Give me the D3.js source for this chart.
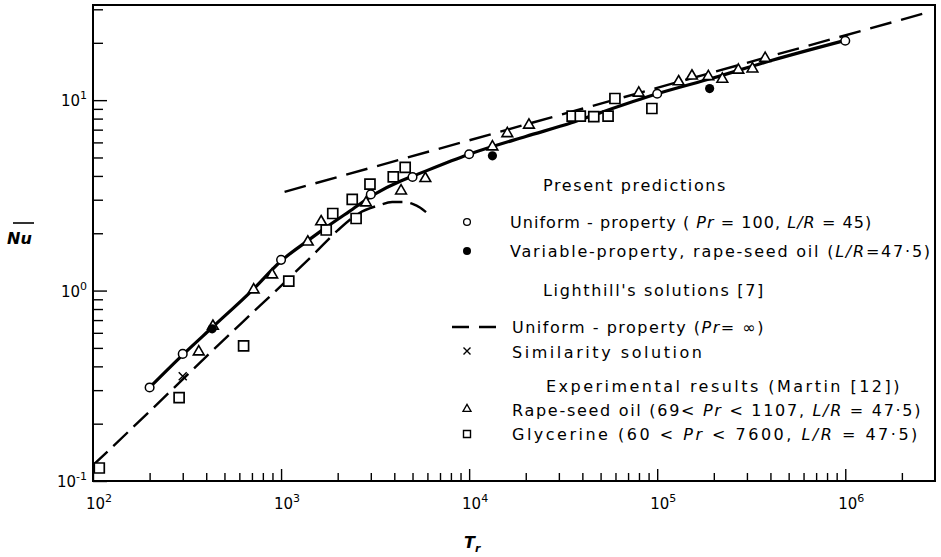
<!DOCTYPE html>
<html>
<head>
<meta charset="utf-8">
<script src="https://cdn.jsdelivr.net/npm/d3@7"></script>
<style>
  body { margin: 0; background: #fff; }
  svg { font-family: "DejaVu Sans", sans-serif; }
</style>
</head>
<body>
<div id="chart"></div>
<script>
// present predictions, solid curve
const predTr = [200, 300, 430, 700, 1000, 1400, 1750, 2300, 3200, 4300, 5000, 10000, 20000, 35000, 50000, 100000, 200000, 400000, 1000000];
const predNu = [0.31, 0.46, 0.64, 1.0, 1.43, 1.84, 2.16, 2.6, 3.24, 3.75, 3.98, 5.2, 6.45, 7.6, 8.6, 10.8, 13.1, 16.1, 20.6];

// Lighthill, small-T dashed curve (with the hump)
const lowTr = [100, 200, 400, 700, 1000, 1500, 2000, 2600, 3300, 3900, 4500, 5000, 5500, 5900];
const lowNu = [0.121, 0.232, 0.45, 0.76, 1.06, 1.56, 2.07, 2.55, 2.8, 2.92, 2.92, 2.85, 2.72, 2.58];

// Lighthill, uniform-property (Pr = inf) asymptote
const asymTr = [1044, 2810000];
const asymNu = [3.30, 29.1];

// open circles: uniform-property
const uniformTr = [200, 300, 1000, 3000, 5000, 10000, 100000, 1000000];
const uniformNu = [0.31, 0.465, 1.45, 3.2, 3.95, 5.2, 10.8, 20.5];

// filled circles: variable-property
const variableTr = [430, 13300, 190000];
const variableNu = [0.63, 5.1, 11.5];

// similarity solution
const simTr = [300];
const simNu = [0.355];

// triangles: rape-seed oil
const rapeTr = [365, 434, 715, 897, 1387, 1633, 2830, 4345, 5850, 13300, 15960, 20800, 79800, 130000, 153000, 187000, 222000, 270000, 321000, 375000];
const rapeNu = [0.477, 0.65, 1.01, 1.21, 1.80, 2.30, 2.89, 3.34, 3.88, 5.69, 6.68, 7.4, 10.9, 12.5, 13.4, 13.3, 12.9, 14.4, 14.6, 16.6];

// squares: glycerine
const glyTr = [108, 287, 632, 1099, 1738, 1883, 2390, 2506, 2970, 3950, 4570, 35300, 39000, 46000, 54800, 59600, 93700];
const glyNu = [0.117, 0.274, 0.513, 1.12, 2.08, 2.54, 3.01, 2.39, 3.62, 3.95, 4.44, 8.24, 8.24, 8.2, 8.24, 10.2, 9.04];

// axis ticks
const xMajor = [1e2, 1e3, 1e4, 1e5, 1e6];
const xExp = ["2", "3", "4", "5", "6"];
const yMajor = [0.1, 1, 10];
const yExp = ["-1", "0", "1"];

// legend texts: [text, italic]
const legendHeads = ["Present predictions", "Lighthill's solutions [7]", "Experimental results (Martin [12])"];
const legendItems = [
  [["Uniform - property ( "], ["Pr", 1], [" = 100, "], ["L/R", 1], [" = 45)"]],
  [["Variable-property, rape-seed oil ("], ["L/R", 1], ["=47·5)"]],
  [["Uniform - property ("], ["Pr", 1], ["= ∞)"]],
  [["Similarity  solution"]],
  [["Rape-seed oil (69< "], ["Pr", 1], [" < 1107, "], ["L/R", 1], [" = 47·5)"]],
  [["Glycerine (60 < "], ["Pr", 1], [" < 7600, "], ["L/R", 1], [" = 47·5)"]]
];

const width = 941, height = 557;
const x = d3.scaleLog().domain([100, 3e6]).range([93, 935]);
const y = d3.scaleLog().domain([0.1, 31.6]).range([481, 5]);

const zip = (a, b) => a.map((v, i) => [v, b[i]]);

const svg = d3.select("#chart").append("svg")
  .attr("width", width)
  .attr("height", height)
  .attr("viewBox", [0, 0, width, height]);

// minor tick values
const minorVals = (lo, hi) => {
  let out = [];
  for (let e = lo; e < hi; e++)
    for (let m = 2; m <= 9; m++) out.push(m * Math.pow(10, e));
  return out;
};
const xMinor = minorVals(2, 6).concat([2e6]);
const yMinor = minorVals(-1, 1).concat([20, 30]);

const styleAxis = g => {
  g.select(".domain").remove();
  g.selectAll(".tick line").attr("stroke", "#000").attr("stroke-width", 1.4);
};

// x axis ticks (inward)
svg.append("g").attr("transform", "translate(0,481)")
  .call(d3.axisBottom(x).tickValues(xMinor).tickSize(-8).tickFormat(""))
  .call(styleAxis);
svg.append("g").attr("transform", "translate(0,481)")
  .call(d3.axisBottom(x).tickValues(xMajor).tickSize(-12).tickFormat(""))
  .call(styleAxis);

// y axis ticks (inward)
svg.append("g").attr("transform", "translate(93,0)")
  .call(d3.axisLeft(y).tickValues(yMinor).tickSize(-10).tickFormat(""))
  .call(styleAxis);
svg.append("g").attr("transform", "translate(93,0)")
  .call(d3.axisLeft(y).tickValues(yMajor).tickSize(-14).tickFormat(""))
  .call(styleAxis);

// frame
svg.append("rect")
  .attr("x", x.range()[0]).attr("y", y.range()[1])
  .attr("width", x.range()[1] - x.range()[0])
  .attr("height", y.range()[0] - y.range()[1])
  .attr("fill", "none").attr("stroke", "#000").attr("stroke-width", 2);

// tick labels with superscripts
xMajor.forEach((v, i) => {
  const t = svg.append("text")
    .attr("x", x(v) + 6).attr("y", 509)
    .attr("text-anchor", "middle")
    .attr("font-size", 15);
  t.append("tspan").text("10");
  t.append("tspan").attr("dy", -7).attr("font-size", 11).text(xExp[i]);
});
yMajor.forEach((v, i) => {
  const t = svg.append("text")
    .attr("x", 87).attr("y", y(v) + 6)
    .attr("text-anchor", "end")
    .attr("font-size", 15);
  t.append("tspan").text("10");
  t.append("tspan").attr("dy", -7).attr("font-size", 11).text(yExp[i]);
});

// axis titles
svg.append("text")
  .attr("x", 7).attr("y", 244)
  .attr("font-size", 16).attr("font-style", "italic").attr("font-weight", "bold")
  .text("Nu");
svg.append("line")
  .attr("x1", 13).attr("x2", 34).attr("y1", 223).attr("y2", 223)
  .attr("stroke", "#000").attr("stroke-width", 1.6);

const tr = svg.append("text")
  .attr("x", 464).attr("y", 548)
  .attr("font-size", 16).attr("font-style", "italic").attr("font-weight", "bold");
tr.append("tspan").text("T");
tr.append("tspan").attr("dy", 4).attr("font-size", 11).text("r");

// curves
const line = d3.line().x(d => x(d[0])).y(d => y(d[1])).curve(d3.curveMonotoneX);

svg.append("path")
  .datum(zip(lowTr, lowNu))
  .attr("d", line)
  .attr("fill", "none").attr("stroke", "#000")
  .attr("stroke-width", 2.4).attr("stroke-dasharray", "20 8");

svg.append("path")
  .datum(zip(asymTr, asymNu))
  .attr("d", line)
  .attr("fill", "none").attr("stroke", "#000")
  .attr("stroke-width", 2.4).attr("stroke-dasharray", "22 10");

svg.append("path")
  .datum(zip(predTr, predNu))
  .attr("d", line)
  .attr("fill", "none").attr("stroke", "#000")
  .attr("stroke-width", 3.2);

// markers
const tri = d3.symbol().type(d3.symbolTriangle).size(50);
const sq = d3.symbol().type(d3.symbolSquare).size(100);

svg.append("g").selectAll("path")
  .data(zip(glyTr, glyNu)).join("path")
  .attr("transform", d => `translate(${x(d[0])},${y(d[1])})`)
  .attr("d", sq)
  .attr("fill", "#fff").attr("stroke", "#000").attr("stroke-width", 1.7);

svg.append("g").selectAll("path")
  .data(zip(rapeTr, rapeNu)).join("path")
  .attr("transform", d => `translate(${x(d[0])},${y(d[1])})`)
  .attr("d", tri)
  .attr("fill", "#fff").attr("stroke", "#000").attr("stroke-width", 1.6);

svg.append("g").selectAll("circle")
  .data(zip(uniformTr, uniformNu)).join("circle")
  .attr("cx", d => x(d[0])).attr("cy", d => y(d[1]))
  .attr("r", 4.3)
  .attr("fill", "#fff").attr("stroke", "#000").attr("stroke-width", 1.5);

svg.append("g").selectAll("circle")
  .data(zip(variableTr, variableNu)).join("circle")
  .attr("cx", d => x(d[0])).attr("cy", d => y(d[1]))
  .attr("r", 4.6)
  .attr("fill", "#000");

svg.append("g").selectAll("path")
  .data(zip(simTr, simNu)).join("path")
  .attr("transform", d => `translate(${x(d[0])},${y(d[1])})`)
  .attr("d", "M-4,-4L4,4M-4,4L4,-4")
  .attr("stroke", "#000").attr("stroke-width", 1.5);

// legend
const legend = svg.append("g").attr("font-size", 16);

function fitText(t, target) {
  const n = t.text().length;
  const len = t.node().getComputedTextLength();
  t.attr("letter-spacing", ((target - len) / n).toFixed(2));
}

const headX = [543, 543, 546];
const headY = [185, 290, 386];
const headW = [184, 222, 356];
legendHeads.forEach((s, i) => {
  const t = legend.append("text")
    .attr("x", headX[i]).attr("y", headY[i] + 6)
    .text(s);
  fitText(t, headW[i]);
});

const itemY = [222, 251, 327, 352, 410, 434];
const itemX = [510, 510, 512, 512, 512, 512];
const itemW = [362, 422, 253, 195, 410, 408];
legendItems.forEach((segs, i) => {
  const t = legend.append("text")
    .attr("x", itemX[i]).attr("y", itemY[i] + 6);
  segs.forEach(s => {
    t.append("tspan")
      .attr("font-style", s[1] ? "italic" : null)
      .text(s[0]);
  });
  fitText(t, itemW[i]);
});

// legend symbols
const lx = 467;
legend.append("circle").attr("cx", lx).attr("cy", itemY[0]).attr("r", 3.4)
  .attr("fill", "#fff").attr("stroke", "#000").attr("stroke-width", 1.3);
legend.append("circle").attr("cx", lx).attr("cy", itemY[1]).attr("r", 4)
  .attr("fill", "#000");
legend.append("line")
  .attr("x1", 452).attr("x2", 497).attr("y1", itemY[2]).attr("y2", itemY[2])
  .attr("stroke", "#000").attr("stroke-width", 2.4).attr("stroke-dasharray", "17 10");
legend.append("path")
  .attr("transform", `translate(${lx},${itemY[3] - 1})`)
  .attr("d", "M-3.5,-3.5L3.5,3.5M-3.5,3.5L3.5,-3.5")
  .attr("stroke", "#000").attr("stroke-width", 1.4);
legend.append("path")
  .attr("transform", `translate(${lx},${itemY[4] - 1})`)
  .attr("d", d3.symbol().type(d3.symbolTriangle).size(28))
  .attr("fill", "#fff").attr("stroke", "#000").attr("stroke-width", 1.3);
legend.append("path")
  .attr("transform", `translate(${lx},${itemY[5]})`)
  .attr("d", d3.symbol().type(d3.symbolSquare).size(49))
  .attr("fill", "#fff").attr("stroke", "#000").attr("stroke-width", 1.4);
</script>
</body>
</html>
